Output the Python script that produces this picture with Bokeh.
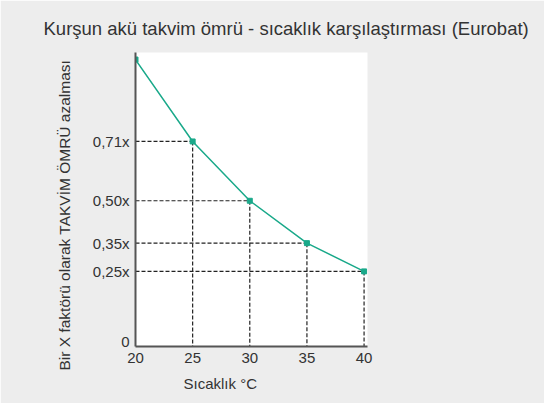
from bokeh.plotting import figure
from bokeh.models import FixedTicker, Range1d, Title
from bokeh.embed import file_html
from bokeh.resources import INLINE

temps = [20, 25, 30, 35, 40]
factors = [1.0, 0.71, 0.50, 0.35, 0.25]
y_tick_values = [0, 0.25, 0.35, 0.50, 0.71]
y_tick_labels = ["0", "0,25x", "0,35x", "0,50x", "0,71x"]
x_tick_labels = ["20", "25", "30", "35", "40"]
title_text = "Kurşun akü takvim ömrü - sıcaklık karşılaştırması (Eurobat)"
x_label_text = "Sıcaklık °C"
y_label_text = "Bir X faktörü olarak TAKVİM ÖMRÜ azalması"

BG = "#ededed"
TEAL = "#1aa98a"
FONT = "Liberation Sans"
TXT = "#333333"

y_start, y_end = -0.016, 1.025
x_start, x_end = 20, 40.3

W, H = 544, 403
p = figure(width=W, height=H, output_backend="svg", toolbar_location=None,
           x_range=Range1d(x_start, x_end), y_range=Range1d(y_start, y_end),
           min_border_left=135, min_border_right=177, min_border_top=52, min_border_bottom=57)
p.background_fill_color = None
p.border_fill_color = BG
p.outline_line_color = None
p.xgrid.grid_line_color = None
p.ygrid.grid_line_color = None

# dashed guides
for t, f in zip(temps[1:], factors[1:]):
    p.segment(x0=[x_start], y0=[f], x1=[t], y1=[f], line_color="#222222", line_width=1.2, line_dash="4 2")
    p.segment(x0=[t], y0=[f], x1=[t], y1=[y_start], line_color="#222222", line_width=1.2, line_dash="4 2")

p.line(temps, factors, line_color=TEAL, line_width=1.5)
p.scatter(temps, factors, size=5, marker="square", color=TEAL)

for ax in (p.xaxis[0], p.yaxis[0]):
    ax.axis_line_color = "#555555"
    ax.axis_line_width = 2
    ax.major_tick_line_color = None
    ax.minor_tick_line_color = None
    ax.major_label_text_font = FONT
    ax.major_label_text_font_size = "15px"
    ax.major_label_text_color = TXT

p.xaxis.ticker = FixedTicker(ticks=temps)
p.xaxis.major_label_overrides = {t: l for t, l in zip(temps, x_tick_labels)}
p.xaxis.major_label_standoff = 0
p.yaxis.ticker = FixedTicker(ticks=y_tick_values)
p.yaxis.major_label_overrides = {v: l for v, l in zip(y_tick_values, y_tick_labels)}
p.yaxis.major_label_standoff = 0

p.add_layout(Title(text=title_text, align="left", offset=-92, standoff=27,
                   text_font=FONT, text_font_size="18.5px", text_font_style="normal",
                   text_color=TXT), "above")
p.add_layout(Title(text=x_label_text, align="left", offset=48, standoff=15,
                   text_font=FONT, text_font_size="15px", text_font_style="normal",
                   text_color=TXT), "below")
p.add_layout(Title(text=y_label_text, align="left", offset=-24, standoff=34,
                   text_font=FONT, text_font_size="15.5px", text_font_style="normal",
                   text_color=TXT), "left")

open("out.html", "w").write(file_html(p, INLINE))
